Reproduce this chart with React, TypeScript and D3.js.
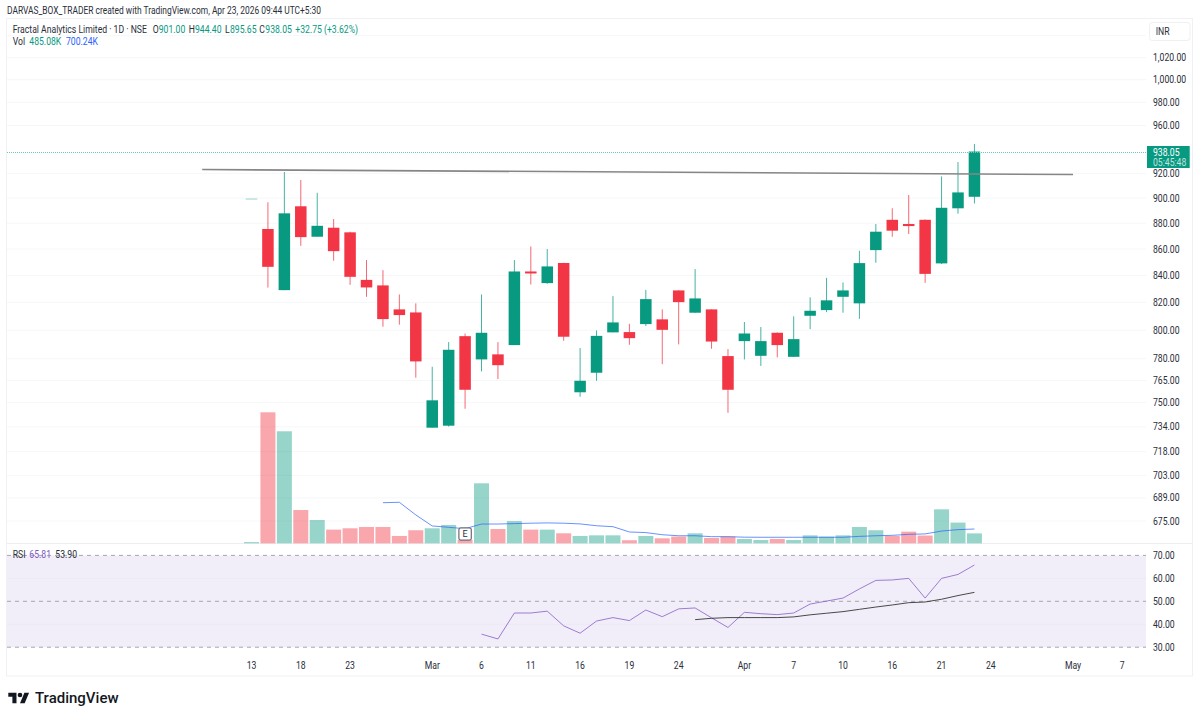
import React from "react";
import * as d3 from "d3";

// OHLC per daily bar, first bar is Feb 13
const opens = [899.4, 875.5, 829.1, 893.4, 869.5, 876.5, 872.9, 836.7, 832.6, 815, 812.8, 733.5, 734.8, 795.8, 779.5, 783, 789.5, 843, 834.3, 849.4, 757, 770.3, 798.5, 798.7, 804.4, 807.8, 828.9, 812.6, 815, 781.8, 792.3, 782, 798.2, 781.3, 810.4, 814.5, 824.2, 819.4, 859.2, 882.7, 879.4, 882.7, 849.1, 891.8, 901];
const highs = [899.4, 896.6, 921.1, 914.5, 904.2, 883.3, 873.4, 851.6, 844, 825.9, 819.4, 774.4, 791.6, 797.7, 825.9, 791.6, 851.6, 862, 860, 849.6, 787.4, 799.9, 824.7, 804.6, 829.3, 815, 828.9, 844.8, 815, 786.7, 805.9, 802.3, 798.5, 810, 823.8, 838.2, 834.8, 858.7, 879.4, 891.8, 902.4, 883, 917.5, 929.3, 944.4];
const lows = [899.4, 831, 829.1, 862.5, 869.5, 851.1, 833, 824.2, 802.5, 804, 766.9, 733.5, 734.2, 746, 771.2, 766, 789.5, 833.3, 833.8, 792.5, 754, 764.8, 798.5, 789.7, 803, 776.2, 790, 812.6, 786.9, 743.3, 779.5, 775, 780.9, 781.3, 800.8, 813, 812.6, 808.2, 849.6, 869.5, 871.6, 834.5, 848.6, 887.5, 895.65];
const closes = [899.5, 846.5, 887.8, 869.2, 878, 858.4, 839, 831.1, 808, 810.9, 778.1, 751.6, 786.2, 758.7, 798.2, 775.5, 843, 841.5, 846.8, 795.4, 764.8, 796, 805.6, 794.4, 822.5, 800.3, 820.3, 823, 792, 758.7, 797.7, 792.3, 789.5, 793.7, 814, 821.6, 828.9, 849.3, 873.4, 874.2, 877.8, 841.2, 892.2, 904.5, 938.05];

// volume in thousands
const volumes = [60, 6420, 5490, 1630, 1140, 670, 735, 800, 800, 360, 640, 735, 900, 160, 2940, 700, 1090, 670, 670, 490, 360, 390, 390, 150, 360, 245, 330, 490, 260, 330, 210, 160, 210, 160, 390, 330, 390, 800, 640, 360, 570, 380, 1665, 1015, 485.08];
const volumeMaStart = 8;
const volumeMa = [1990, 2010, 1390, 850, 785, 715, 945, 945, 965, 985, 1000, 985, 950, 860, 815, 555, 525, 420, 370, 370, 325, 325, 300, 295, 295, 295, 295, 295, 295, 340, 370, 390, 440, 460, 600, 670, 700.24];

const rsiStart = 14;
const rsiValues = [35.7, 33.6, 44.9, 44.9, 45.7, 39.3, 36.1, 41.4, 42.9, 41.6, 46.2, 43.3, 46.7, 47.1, 42.8, 38.6, 45.2, 44.6, 44.2, 44.9, 48.8, 50.1, 51.4, 55.4, 59.1, 59.3, 60, 51.4, 60, 61.7, 65.81];
const rsiMaStart = 27;
const rsiMa = [42, 42.6, 42.9, 42.9, 42.9, 42.9, 43.2, 44.1, 44.8, 45.5, 46.5, 47.5, 48.4, 49.4, 49.7, 50.9, 52.5, 53.9];

const priceTicks = [1040, 1020, 1000, 980, 960, 920, 900, 880, 860, 840, 820, 800, 780, 765, 750, 734, 718, 703, 689, 675];
const rsiTicks = [70, 60, 50, 40, 30];
const rsiBands = [70, 50, 30];

const timeLabels = ["13", "18", "23", "Mar", "6", "11", "16", "19", "24", "Apr", "7", "10", "16", "21", "24", "May", "7"];
const timeBars = [0, 3, 6, 11, 14, 17, 20, 23, 26, 30, 33, 36, 39, 42, 45, 50, 53];

const trendBars = [-3, 50];
const trendPrices = [923.1, 919];

const lastPrice = 938.05;
const earningsBar = 13;

const GREEN = "#089981";
const RED = "#f23645";
const INK = "#2a2e39";
const FONT = "Roboto, 'Liberation Sans', sans-serif";

const x = d3.scaleLinear().domain([0, 53]).range([251.5, 1122.3]);
const y = d3.scaleLog().domain([1020, 675]).range([57.5, 521]);
const yVol = d3.scaleLinear().domain([0, 6420]).range([543.3, 412.3]);
const yRsi = d3.scaleLinear().domain([30, 70]).range([647.2, 555.4]);

const fmtPrice = d3.format(",.2f");

const volLine = d3.line<number>().x((_, i) => x(i + volumeMaStart)).y((d) => yVol(d));
const rsiLine = d3.line<number>().x((_, i) => x(i + rsiStart)).y((d) => yRsi(d));
const rsiMaLine = d3.line<number>().x((_, i) => x(i + rsiMaStart)).y((d) => yRsi(d));

// tradingview's ui font runs narrower than roboto, so squeeze it a bit
const Label: React.FC<{
  x: number;
  y: number;
  fill?: string;
  opacity?: number;
  anchor?: string;
  children: React.ReactNode;
}> = ({ x: px, y: py, fill = INK, opacity, anchor, children }) => (
  <text
    transform={`translate(${px},${py}) scale(0.865,1)`}
    fontSize={10}
    fill={fill}
    fillOpacity={opacity}
    textAnchor={anchor}
  >
    {children}
  </text>
);

const App: React.FC = () => {
  const candleW = 11.5;
  const volW = 15;

  return (
    <div style={{ position: "absolute", left: 0, top: 0 }}>
      <svg width={1200} height={719} style={{ display: "block", background: "#fff" }} fontFamily={FONT}>
        <text transform="translate(7,14) scale(0.842,1)" fontSize={10} fill={INK}>
          DARVAS_BOX_TRADER created with TradingView.com, Apr 23, 2026 09:44 UTC+5:30
        </text>

        {/* frame */}
        <rect x={6.5} y={18.5} width={1186} height={657.5} fill="none" stroke="#f0f1f4" />
        <line x1={7} x2={1192} y1={543.5} y2={543.5} stroke="#eceef2" />

        {/* legend */}
        <Label x={12.7} y={33}>Fractal Analytics Limited · 1D · NSE</Label>
        {[
          ["O", "901.00", 152.7, 158.7],
          ["H", "944.40", 188.7, 195],
          ["L", "895.65", 225, 230],
          ["C", "938.05", 259.3, 265.3],
        ].map(([k, v, a, b]) => (
          <g key={k as string}>
            <Label x={a as number} y={33}>{k}</Label>
            <Label x={b as number} y={33} fill={GREEN}>{v}</Label>
          </g>
        ))}
        <Label x={295.3} y={33} fill={GREEN}>+32.75 (+3.62%)</Label>
        <Label x={12.7} y={45}>Vol</Label>
        <Label x={29.3} y={45} fill={GREEN}>485.08K</Label>
        <Label x={66} y={45} fill="#2962ff">700.24K</Label>

        {/* price grid */}
        {priceTicks.map((t) => (
          <line key={t} x1={7} x2={1146} y1={y(t)} y2={y(t)} stroke="#f6f7f9" />
        ))}

        {/* volume */}
        {volumes.map((v, i) => (
          <rect
            key={i}
            x={x(i) - volW / 2}
            y={yVol(v)}
            width={volW}
            height={yVol(0) - yVol(v)}
            fill={closes[i] >= opens[i] ? GREEN : RED}
            opacity={closes[i] >= opens[i] ? 0.42 : 0.44}
          />
        ))}
        <path d={volLine(volumeMa) ?? ""} fill="none" stroke="#2962ff" strokeOpacity={0.7} strokeWidth={1} />

        {/* candles */}
        {opens.map((o, i) => {
          const up = closes[i] >= o;
          const color = up ? GREEN : RED;
          const top = y(Math.max(o, closes[i]));
          const bot = y(Math.min(o, closes[i]));
          return (
            <g key={i}>
              <line x1={x(i)} x2={x(i)} y1={y(highs[i])} y2={y(lows[i])} stroke={color} strokeOpacity={0.75} />
              <rect
                x={x(i) - candleW / 2}
                y={top}
                width={candleW}
                height={Math.max(bot - top, 0.8)}
                fill={color}
                opacity={i === 0 ? 0.5 : 1}
              />
            </g>
          );
        })}

        {/* trend line */}
        <line
          x1={x(trendBars[0])}
          x2={x(trendBars[1])}
          y1={y(trendPrices[0])}
          y2={y(trendPrices[1])}
          stroke="#868686"
          strokeWidth={1.6}
        />

        {/* last price */}
        <line
          x1={7}
          x2={1146}
          y1={Math.round(y(lastPrice)) + 0.5}
          y2={Math.round(y(lastPrice)) + 0.5}
          stroke="#6cc9b9"
          strokeDasharray="1 1"
        />

        {/* earnings badge */}
        <g transform={`translate(${x(earningsBar)},534)`}>
          <rect x={-6.2} y={-6.2} width={12.4} height={12.4} rx={2} fill="#fff" stroke="#6a6d78" strokeWidth={1.2} />
          <text y={3.2} textAnchor="middle" fontSize={9} fill={INK}>E</text>
        </g>

        {/* rsi pane */}
        <rect x={7} y={yRsi(70)} width={1139} height={yRsi(30) - yRsi(70)} fill="#7e57c2" opacity={0.1} />
        {rsiTicks.filter((t) => !rsiBands.includes(t)).map((t) => (
          <line key={t} x1={7} x2={1146} y1={yRsi(t)} y2={yRsi(t)} stroke="#ebe8f5" />
        ))}
        {rsiBands.map((t) => (
          <line key={t} x1={7} x2={1146} y1={yRsi(t)} y2={yRsi(t)} stroke="#a5a7b0" strokeDasharray="4 4" />
        ))}
        <path d={rsiLine(rsiValues) ?? ""} fill="none" stroke="#7e57c2" strokeOpacity={0.75} strokeWidth={1} />
        <path d={rsiMaLine(rsiMa) ?? ""} fill="none" stroke="#2a2a2a" strokeOpacity={0.85} strokeWidth={1} />
        <Label x={12.7} y={558}>RSI</Label>
        <Label x={29.3} y={558} fill="#7e57c2">65.81</Label>
        <Label x={55.3} y={558}>53.90</Label>

        {/* price axis */}
        {priceTicks.filter((t) => t !== 1040).map((t) => (
          <Label key={t} x={1153} y={y(t) + 3.5}>{fmtPrice(t)}</Label>
        ))}
        {rsiTicks.map((t) => (
          <Label key={t} x={1153} y={yRsi(t) + 3.5}>{fmtPrice(t)}</Label>
        ))}
        <rect x={1149.5} y={22.5} width={40.5} height={18} rx={3} fill="#fff" stroke="#eef0f3" />
        <Label x={1155.7} y={35}>INR</Label>

        <rect x={1147} y={146} width={42.7} height={22} fill={GREEN} />
        <Label x={1153} y={155.5} fill="#fff">{lastPrice.toFixed(2)}</Label>
        <Label x={1153} y={165.5} fill="#fff" opacity={0.75}>05:45:48</Label>

        {/* time axis */}
        {timeLabels.map((l, i) => (
          <Label key={i} x={x(timeBars[i])} y={669} anchor="middle">{l}</Label>
        ))}

        {/* logo */}
        <g transform="translate(8.3,690.3) scale(0.585)" fill="#131722">
          <path d="M14 22H7V11H0V4h14v18zM28 22h-8l7.5-18h8L28 22z" />
          <circle cx={20} cy={8} r={4} />
        </g>
        <text x={35} y={703} fontSize={15} fontWeight={500} fill="#131722">TradingView</text>
      </svg>
    </div>
  );
};

export default App;
